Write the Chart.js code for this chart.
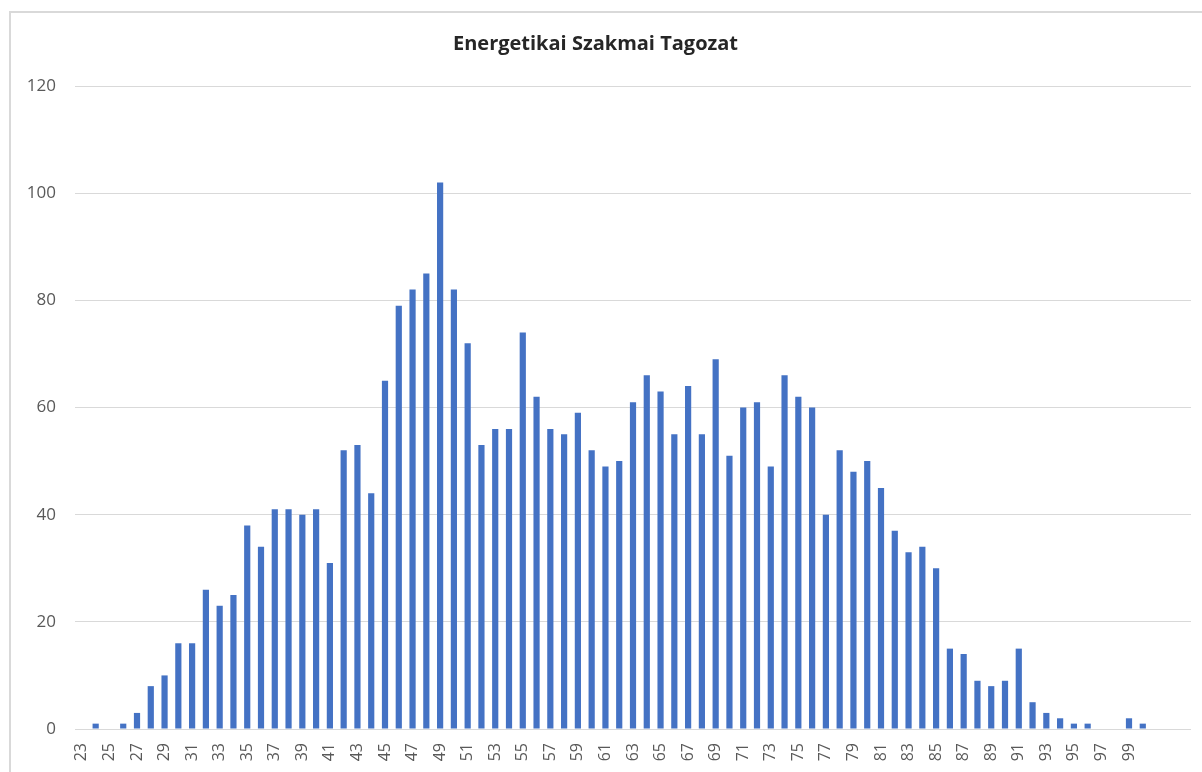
<!DOCTYPE html>
<html>
<head>
<meta charset="utf-8">
<script src="https://cdn.jsdelivr.net/npm/chart.js@4"></script>
<style>
  html, body { margin: 0; padding: 0; background: #fff; }
  body { width: 1202px; height: 772px; position: relative; overflow: hidden; }
  #frame { position: absolute; left: 9px; top: 11px; width: 1200px; height: 780px;
           border-left: 2px solid #d9d9d9; border-top: 2px solid #d9d9d9; }
  #wrap { position: absolute; left: 0; top: 0; width: 1202px; height: 772px; }
</style>
</head>
<body>
<div id="frame"></div>
<div id="wrap"><canvas id="chart"></canvas></div>
<script>
// score categories and counts
const scores = [23, 24, 25, 26, 27, 28, 29, 30, 31, 32, 33, 34, 35, 36, 37, 38, 39, 40,
  41, 42, 43, 44, 45, 46, 47, 48, 49, 50, 51, 52, 53, 54, 55, 56, 57, 58, 59, 60,
  61, 62, 63, 64, 65, 66, 67, 68, 69, 70, 71, 72, 73, 74, 75, 76, 77, 78, 79, 80,
  81, 82, 83, 84, 85, 86, 87, 88, 89, 90, 91, 92, 93, 94, 95, 96, 97, 98, 99, 100];
const counts = [0, 1, 0, 1, 3, 8, 10, 16, 16, 26, 23, 25, 38, 34, 41, 41, 40, 41,
  31, 52, 53, 44, 65, 79, 82, 85, 102, 82, 72, 53, 56, 56, 74, 62, 56, 55, 59, 52,
  49, 50, 61, 66, 63, 55, 64, 55, 69, 51, 60, 61, 49, 66, 62, 60, 40, 52, 48, 50,
  45, 37, 33, 34, 30, 15, 14, 9, 8, 9, 15, 5, 3, 2, 1, 1, 0, 0, 2, 1];
const xTicks = [23, 25, 27, 29, 31, 33, 35, 37, 39, 41, 43, 45, 47, 49, 51, 53, 55, 57,
  59, 61, 63, 65, 67, 69, 71, 73, 75, 77, 79, 81, 83, 85, 87, 89, 91, 93, 95, 97, 99];
const yTicks = [0, 20, 40, 60, 80, 100, 120];

const points = scores.map((s, i) => ({ x: s, y: counts[i] }));

new Chart(document.getElementById('chart').getContext('2d'), {
  type: 'bar',
  data: {
    datasets: [{
      data: points,
      backgroundColor: '#4472c4',
      barPercentage: 0.45,
      categoryPercentage: 1
    }]
  },
  options: {
    responsive: true,
    maintainAspectRatio: false,
    animation: false,
    layout: { padding: { left: 0, right: 11, top: 0, bottom: 0 } },
    plugins: {
      legend: { display: false },
      tooltip: { enabled: false },
      title: {
        display: true,
        text: 'Energetikai Szakmai Tagozat',
        color: '#262626',
        font: { family: '"Open Sans", sans-serif', size: 20, weight: 'bold' },
        padding: { top: 32, bottom: 30 }
      }
    },
    scales: {
      x: {
        type: 'linear',
        min: 22.5,
        max: 103.5,
        offset: false,
        grid: { display: false },
        border: { display: false },
        afterBuildTicks: (scale) => { scale.ticks = xTicks.map(v => ({ value: v })); },
        afterFit: (scale) => { scale.height = 43; },
        ticks: {
          autoSkip: false,
          minRotation: 90,
          maxRotation: 90,
          padding: 6,
          color: '#595959',
          font: { family: '"Open Sans", sans-serif', size: 16 }
        }
      },
      y: {
        min: 0,
        max: 120,
        afterBuildTicks: (scale) => { scale.ticks = yTicks.map(v => ({ value: v })); },
        afterFit: (scale) => { scale.width = 75; },
        grid: { color: '#d9d9d9', lineWidth: 1, drawTicks: false },
        border: { display: false },
        ticks: {
          padding: 19,
          color: '#595959',
          font: { family: '"Open Sans", sans-serif', size: 17 }
        }
      }
    }
  }
});
</script>
</body>
</html>
